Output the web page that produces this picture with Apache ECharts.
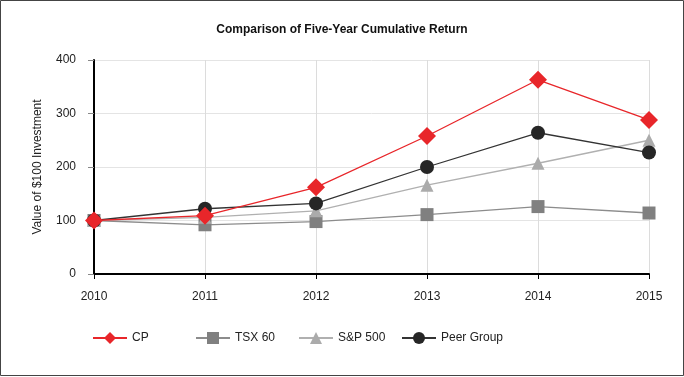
<!DOCTYPE html>
<html>
<head>
<meta charset="utf-8">
<script src="https://cdn.jsdelivr.net/npm/echarts@6/dist/echarts.min.js"></script>
<style>
  html, body { margin: 0; padding: 0; background: #fff; }
  #chart { width: 684px; height: 377px; }
</style>
</head>
<body>
<div id="chart"></div>
<script>
var years = ['2010', '2011', '2012', '2013', '2014', '2015'];
var cp = [100, 109, 162, 258, 363, 288];
var tsx60 = [100, 92, 98, 111, 126, 114];
var sp500 = [100, 106, 118, 166, 207, 250];
var peerGroup = [100, 122, 132, 200, 264, 227];
var seriesNames = ['CP', 'TSX 60', 'S&P 500', 'Peer Group'];

var font = '"Liberation Sans", Arial, sans-serif';
var myChart = echarts.init(document.getElementById('chart'));

function line(name, data, color, lineColor, symbol, size) {
    return {
        name: name,
        type: 'line',
        data: data,
        symbol: symbol,
        symbolSize: size,
        lineStyle: { color: lineColor, width: 1.3 },
        itemStyle: { color: color },
        emphasis: { disabled: true }
    };
}

// one legend per entry so the items sit at even spacing
var legends = seriesNames.map(function (name, i) {
    return {
        left: 92 + i * 103,
        top: 332,
        padding: 0,
        itemWidth: 34,
        itemHeight: 15,
        textStyle: { fontSize: 12, color: '#222', fontFamily: font },
        data: [name]
    };
});

var option = {
    animation: false,
    textStyle: { fontFamily: font },
    title: {
        text: 'Comparison of Five-Year Cumulative Return',
        left: 'center',
        top: 19,
        textStyle: { fontSize: 12, fontWeight: 'bold', color: '#111', fontFamily: font }
    },
    graphic: [{
        type: 'rect',
        shape: { x: 0.5, y: 0.5, width: 683, height: 375 },
        style: { fill: 'none', stroke: '#444', lineWidth: 1 }
    }],
    legend: legends,
    grid: { left: 94, right: 35, top: 60, bottom: 103 },
    xAxis: {
        type: 'category',
        data: years,
        boundaryGap: false,
        axisLine: { lineStyle: { color: '#000', width: 2 } },
        axisTick: { length: 5, lineStyle: { color: '#000' } },
        axisLabel: { color: '#222', fontSize: 12, margin: 17 },
        splitLine: { show: true, lineStyle: { color: '#dcdcdc' } }
    },
    yAxis: {
        type: 'value',
        min: 0,
        max: 400,
        interval: 100,
        name: 'Value of $100 Investment',
        nameLocation: 'middle',
        nameGap: 50,
        nameTextStyle: { fontSize: 12, color: '#222' },
        axisLine: { show: true, lineStyle: { color: '#000', width: 2 } },
        axisTick: { show: true, length: 6, lineStyle: { color: '#888' } },
        axisLabel: { color: '#222', fontSize: 12, margin: 18 },
        splitLine: { lineStyle: { color: '#e4e4e4' } }
    },
    series: [
        line('TSX 60', tsx60, '#808080', '#8c8c8c', 'rect', 13),
        line('S&P 500', sp500, '#ababab', '#b0b0b0', 'triangle', 13),
        line('Peer Group', peerGroup, '#262626', '#333', 'circle', 14),
        line('CP', cp, '#e8262a', '#e8262a', 'diamond', 18)
    ]
};
myChart.setOption(option);
</script>
</body>
</html>
